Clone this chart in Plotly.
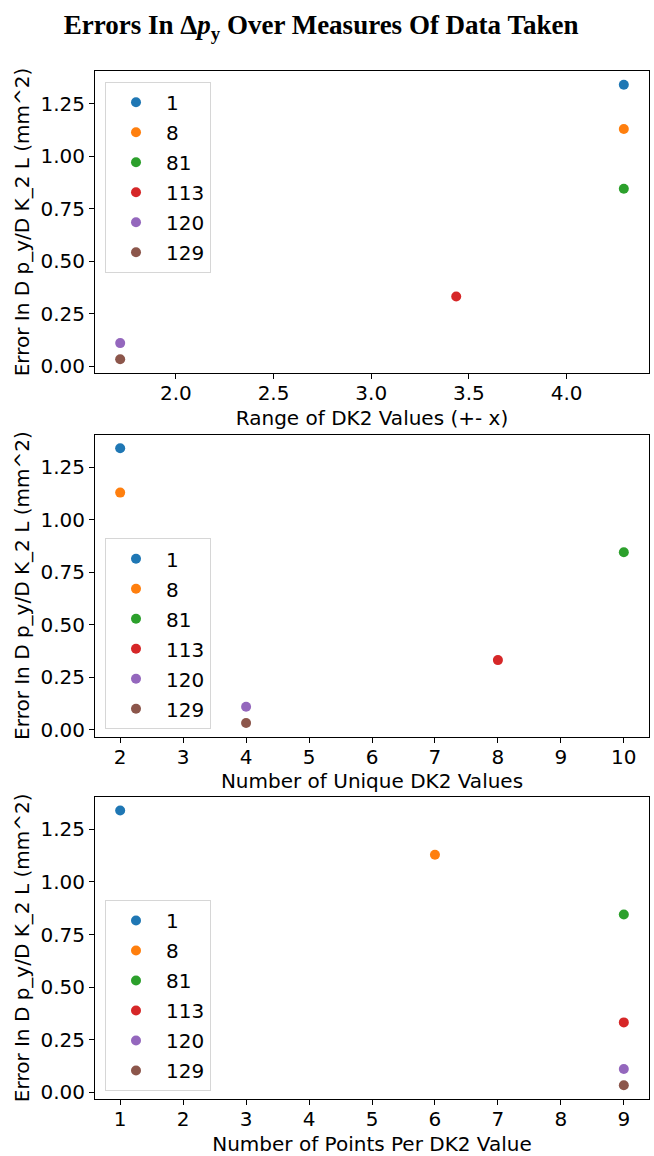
import plotly.graph_objects as go

# Dataset labels and their measured errors
labels = ["1", "8", "81", "113", "120", "129"]
error = [1.340, 1.129, 0.845, 0.332, 0.110, 0.033]

# Measures of data taken for each dataset
range_dk2 = [4.293, 4.293, 4.293, 3.435, 1.715, 1.715]
unique_dk2 = [2, 2, 10, 8, 4, 4]
points_per_dk2 = [1, 6, 9, 9, 9, 9]

colors = ["#1f77b4", "#ff7f0e", "#2ca02c", "#d62728", "#9467bd", "#8c564b"]

x_titles = [
    "Range of DK2 Values (+- x)",
    "Number of Unique DK2 Values",
    "Number of Points Per DK2 Value",
]
y_title = "Error In D p_y/D K_2 L (mm^2)"
y_ticks = [0.0, 0.25, 0.5, 0.75, 1.0, 1.25]

W, H = 654, 1156
ML, MR, MT, MB = 95, 5, 71, 57
plot_h = H - MT - MB

# panel pixel extents (top, bottom) measured from the top of the page
panels_px = [(71, 373), (434.5, 736.7), (796.7, 1099)]
legend_top_px = [81.7, 538.3, 900]

def py(px):
    return (H - MB - px) / plot_h

x_series = [range_dk2, unique_dk2, points_per_dk2]
legend_names = ["legend", "legend2", "legend3"]

fig = go.Figure()
font = dict(family="DejaVu Sans", size=20, color="black")
legend_font = dict(family="DejaVu Sans", size=20, color="black")

for p, xs in enumerate(x_series):
    suffix = "" if p == 0 else str(p + 1)
    for i, lab in enumerate(labels):
        fig.add_trace(go.Scatter(
            x=[xs[i]], y=[error[i]], mode="markers", name=lab,
            marker=dict(color=colors[i], size=10, line=dict(width=0)),
            xaxis="x" + suffix, yaxis="y" + suffix,
            legend=legend_names[p], legendgroup=f"{p}-{lab}",
        ))
    lo, hi = min(xs), max(xs)
    pad = (hi - lo) * 0.05
    top, bot = panels_px[p]
    axis_common = dict(
        showgrid=False, zeroline=False, showline=True, linecolor="black",
        linewidth=1, mirror=True, ticks="outside", ticklen=5, tickwidth=1,
        tickcolor="black", tickfont=font,
    )
    fig.layout["xaxis" + suffix] = dict(
        axis_common, domain=[0, 1], anchor="y" + suffix,
        range=[lo - pad, hi + pad],
        title=dict(text=x_titles[p], font=font, standoff=6),
        dtick=0.5 if p == 0 else 1,
        tickformat=".1f" if p == 0 else "d",
        ticklabelstandoff=-3,
    )
    elo, ehi = min(error), max(error)
    epad = (ehi - elo) * 0.05
    fig.layout["yaxis" + suffix] = dict(
        axis_common, domain=[py(bot), py(top)], anchor="x" + suffix,
        range=[elo - epad, ehi + epad], tickvals=y_ticks, tickformat=".2f",
        title=dict(text=y_title, font=font, standoff=5),
    )
    fig.layout[legend_names[p]] = dict(
        x=(105 - ML) / (W - ML - MR), y=py(legend_top_px[p]),
        xanchor="left", yanchor="top",
        bgcolor="rgba(255,255,255,0.8)", bordercolor="#d6d6d6", borderwidth=1,
        font=legend_font, tracegroupgap=1, itemwidth=50,
    )

fig.update_layout(
    width=W, height=H,
    margin=dict(l=ML, r=MR, t=MT, b=MB, autoexpand=False),
    paper_bgcolor="white", plot_bgcolor="white",
    title=dict(
        text="<b>Errors In Δ<i>p</i><sub>y</sub> Over Measures Of Data Taken</b>",
        font=dict(family="Liberation Serif", size=27, color="black"),
        x=0.491, xanchor="center", y=1 - 25 / H, yanchor="middle",
    ),
)

fig.write_html("out.html")
